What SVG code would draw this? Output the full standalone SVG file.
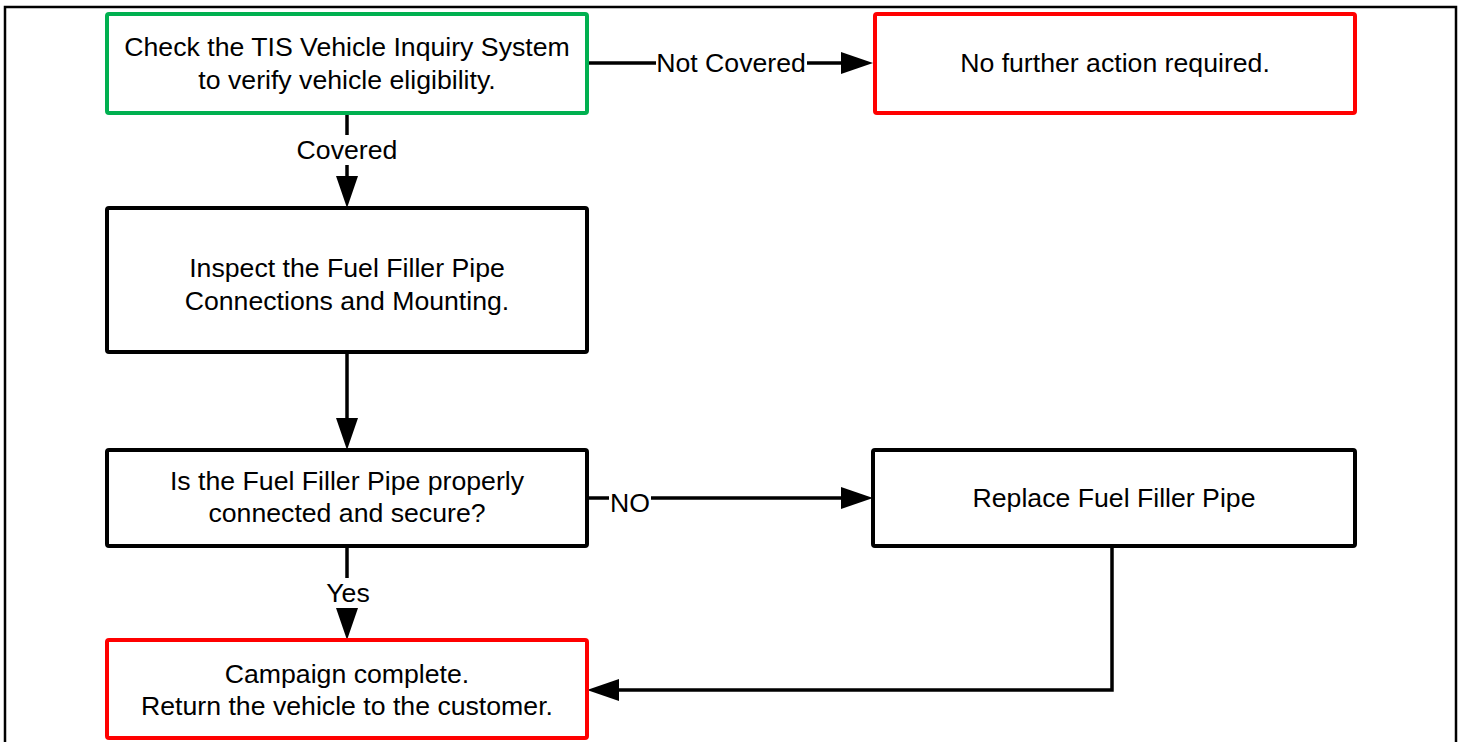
<svg xmlns="http://www.w3.org/2000/svg" width="1461" height="742" viewBox="0 0 1461 742">
<style>
.box{fill:#fff;stroke:#000;stroke-width:4;}
.green{stroke:#00B050;}
.red{stroke:#FF0000;}
.t{font-family:"Liberation Sans",Arial,sans-serif;font-size:26.67px;fill:#000;text-anchor:middle;}
.c{fill:none;stroke:#000;stroke-width:3.5;}
.lb{fill:#fff;stroke:none;}
</style>
<defs>
<marker id="ah" markerUnits="userSpaceOnUse" markerWidth="32" markerHeight="22" refX="12" refY="11" orient="auto">
<path d="M0,0 L32,11 L0,22 Z" fill="#000"/>
</marker>
</defs>
<rect x="5" y="7" width="1451" height="745" fill="#fff" stroke="#000" stroke-width="2.5"/>
<g id="connectors">
<path class="c" d="M587,63 H853" marker-end="url(#ah)"/>
<rect class="lb" x="656" y="50" width="151" height="28"/>
<text class="t" x="731" y="72">Not Covered</text>
<path class="c" d="M347,113 V188" marker-end="url(#ah)"/>
<rect class="lb" x="290" y="135" width="114" height="30"/>
<text class="t" x="347" y="159">Covered</text>
<path class="c" d="M347,352 V430" marker-end="url(#ah)"/>
<path class="c" d="M587,498 H853" marker-end="url(#ah)"/>
<rect class="lb" x="609" y="485" width="42" height="28"/>
<text class="t" x="630" y="512">NO</text>
<path class="c" d="M347,546 V620" marker-end="url(#ah)"/>
<rect class="lb" x="320" y="578" width="56" height="30"/>
<text class="t" x="348" y="602">Yes</text>
<path class="c" d="M1112,546 V690 H607" marker-end="url(#ah)"/>
</g>
<g id="n1">
<rect class="box green" x="107" y="14" width="480" height="99" rx="2"/>
<text class="t" x="347" y="56">Check the TIS Vehicle Inquiry System</text>
<text class="t" x="347" y="89">to verify vehicle eligibility.</text>
</g>
<g id="n2">
<rect class="box red" x="875" y="14" width="480" height="99" rx="2"/>
<text class="t" x="1115" y="72">No further action required.</text>
</g>
<g id="n3">
<rect class="box" x="107" y="208" width="480" height="144" rx="2"/>
<text class="t" x="347" y="277">Inspect the Fuel Filler Pipe</text>
<text class="t" x="347" y="310">Connections and Mounting.</text>
</g>
<g id="n4">
<rect class="box" x="107" y="450" width="480" height="96" rx="2"/>
<text class="t" x="347" y="490">Is the Fuel Filler Pipe properly</text>
<text class="t" x="347" y="522">connected and secure?</text>
</g>
<g id="n5">
<rect class="box" x="873" y="450" width="482" height="96" rx="2"/>
<text class="t" x="1114" y="507">Replace Fuel Filler Pipe</text>
</g>
<g id="n6">
<rect class="box red" x="107" y="640" width="480" height="98" rx="2"/>
<text class="t" x="347" y="683">Campaign complete.</text>
<text class="t" x="347" y="715">Return the vehicle to the customer.</text>
</g>
</svg>
